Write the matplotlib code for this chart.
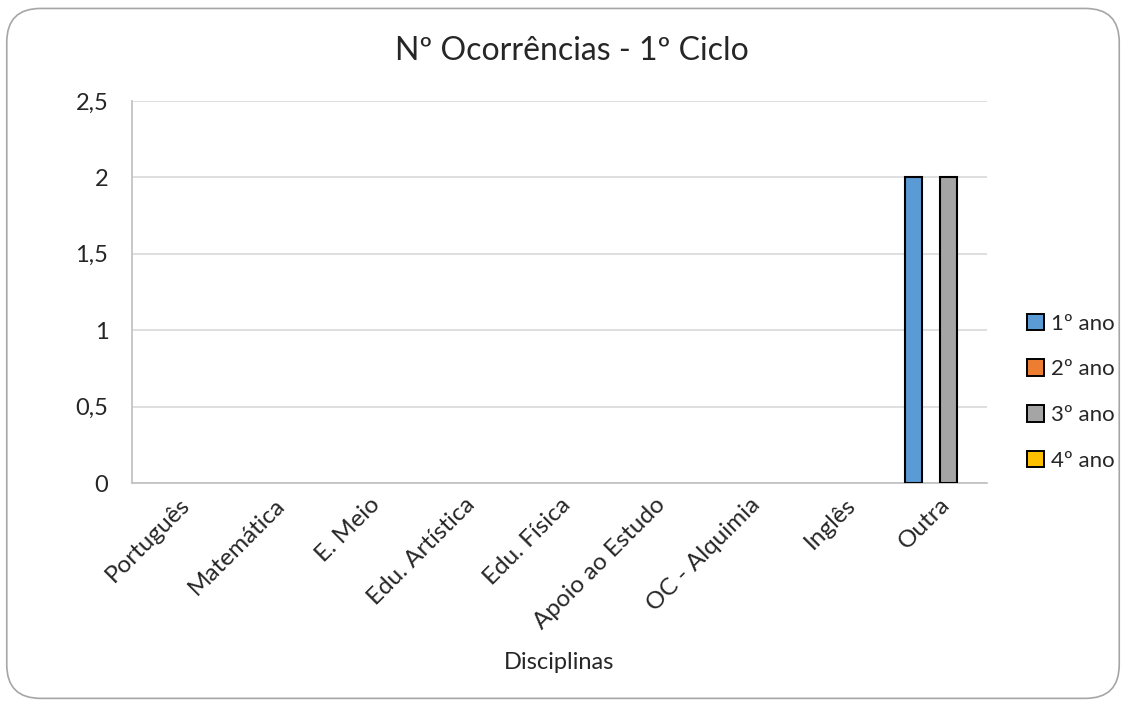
import numpy as np
import matplotlib.pyplot as plt
from matplotlib.patches import FancyBboxPatch, Patch

plt.rcParams['font.family'] = ['Lato', 'DejaVu Sans']

# data
disciplinas = ["Português", "Matemática", "E. Meio", "Edu. Artística", "Edu. Física",
               "Apoio ao Estudo", "OC - Alquimia", "Inglês", "Outra"]
ano1 = [0, 0, 0, 0, 0, 0, 0, 0, 2]
ano2 = [0, 0, 0, 0, 0, 0, 0, 0, 0]
ano3 = [0, 0, 0, 0, 0, 0, 0, 0, 2]
ano4 = [0, 0, 0, 0, 0, 0, 0, 0, 0]
series_names = ["1º ano", "2º ano", "3º ano", "4º ano"]
colors = ["#5B9BD5", "#ED7D31", "#A5A5A5", "#FFC000"]
yticks = [0, 0.5, 1, 1.5, 2, 2.5]
ytick_labels = ["0", "0,5", "1", "1,5", "2", "2,5"]

fig = plt.figure(figsize=(11.26, 7.04), dpi=100)

# rounded outer border of the chart
border = FancyBboxPatch((0.006, 0.008), 0.988, 0.98, boxstyle="round,pad=0,rounding_size=0.03",
                        transform=fig.transFigure, facecolor="none", edgecolor="#A6A6A6",
                        linewidth=1.2, mutation_aspect=1126 / 704, zorder=-5)
fig.patches.append(border)

ax = fig.add_axes([0.1172, 0.3139, 0.7594, 0.5426])
ax.set_facecolor("none")

x = np.arange(len(disciplinas))
w = 0.18
all_series = [ano1, ano2, ano3, ano4]
for i, vals in enumerate(all_series):
    bars = ax.bar(x + (i - 1.5) * w, vals, width=w, color=colors[i],
                  edgecolor="black", linewidth=1.5, zorder=3)
    for b in bars:
        if b.get_height() == 0:
            b.set_visible(False)

ax.set_xlim(-0.5, len(disciplinas) - 0.5)
ax.set_ylim(0, 2.5)
ax.set_yticks(yticks)
ax.set_yticklabels(ytick_labels, fontsize=17, color="#262626")
ax.set_xticks(x)
ax.set_xticklabels(disciplinas, rotation=45, ha="right", rotation_mode="anchor",
                   fontsize=17.5, color="#262626")
ax.tick_params(axis="y", length=0, pad=17)
ax.tick_params(axis="x", length=0, pad=8)
ax.yaxis.grid(True, color="#D9D9D9", linewidth=1.2, zorder=0)
for s in ["top", "right"]:
    ax.spines[s].set_visible(False)
ax.spines["left"].set_color("#BFBFBF")
ax.spines["left"].set_linewidth(1.2)
ax.spines["bottom"].set_color("#BFBFBF")
ax.spines["bottom"].set_linewidth(1.2)

ax.set_xlabel("Disciplinas", fontsize=17, color="#262626", va="center")
ax.xaxis.set_label_coords(0.5, -0.471)
fig.text(0.508, 0.928, "Nº Ocorrências - 1º Ciclo", ha="center", va="center",
         fontsize=23, color="#262626")

handles = [Patch(facecolor=c, edgecolor="black", linewidth=1.4) for c in colors]
fig.legend(handles, series_names, loc="center left", bbox_to_anchor=(0.912, 0.443),
           frameon=False, fontsize=16, handlelength=0.78, handleheight=0.78,
           handletextpad=0.3, labelspacing=1.15, borderpad=0, borderaxespad=0,
           labelcolor="#262626")

fig.savefig("out.png", dpi=100)
